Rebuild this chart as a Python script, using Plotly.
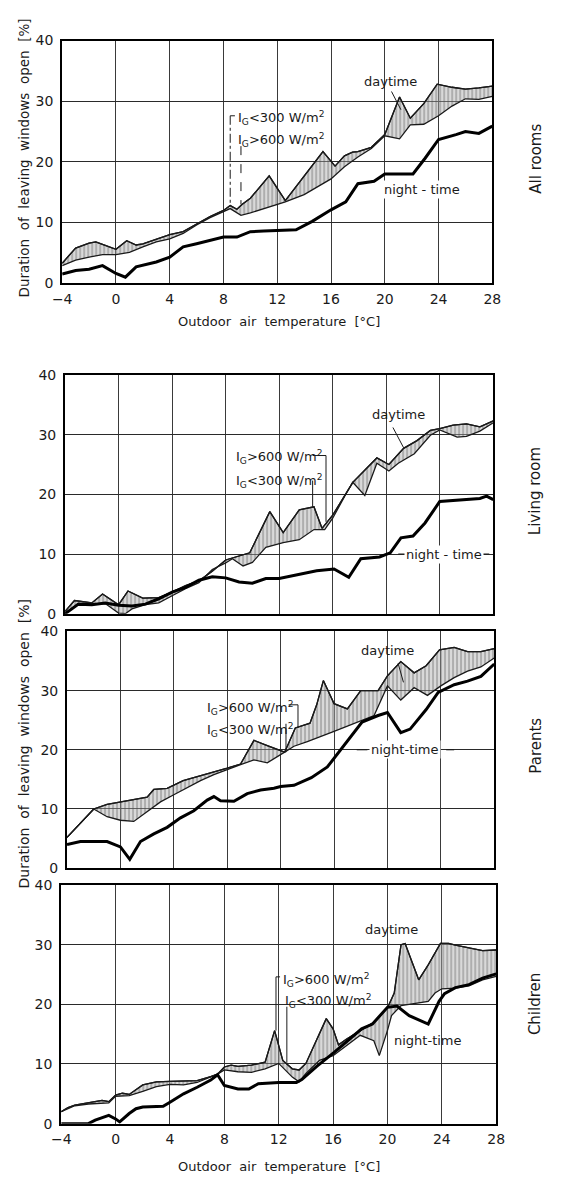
import plotly.graph_objects as go

W, H = 568, 1181

# ---------------- data: duration of leaving windows open [%] vs outdoor temperature [°C]
# All rooms
p1_hi_t = [-4, -3, -2, -1.5, -1, 0, 0.8, 1.5, 2, 3, 4, 5, 6, 7, 8, 8.5, 9, 9.4, 10, 11.4, 12.6,
           15.4, 16.3, 17, 17.6, 18, 19, 20, 21.1, 21.9, 22.9, 23.9, 25, 26, 27, 28]
p1_hi = [3.3, 5.8, 6.6, 6.8, 6.4, 5.6, 7.0, 6.3, 6.5, 7.3, 8.0, 8.5, 9.8, 11.0, 12.0, 12.8, 12.2, 13.0,
         14.0, 17.7, 13.6, 21.7, 19.3, 21.0, 21.6, 21.7, 22.4, 24.5, 30.7, 27.2, 29.6, 32.8, 32.3, 32.0,
         32.2, 32.5]
p1_lo_t = [-4, -3, -2, -1, 0, 1, 2, 3, 4, 5, 6, 7, 8, 8.5, 9.3, 10, 12.6, 14, 16, 17, 18, 19, 20,
           21.1, 21.9, 22.9, 24, 25, 26, 27, 28]
p1_lo = [2.9, 3.8, 4.3, 4.7, 4.7, 5.1, 6.0, 6.8, 7.3, 8.2, 9.6, 10.8, 11.8, 12.3, 11.2, 11.6, 13.4,
         14.6, 17.2, 19.2, 20.8, 22.2, 24.3, 23.8, 26.1, 26.2, 27.6, 29.2, 30.4, 30.3, 30.8]
p1_n_t = [-4, -3, -2, -1, 0, 0.7, 1.5, 2, 3, 4, 5, 6, 7, 8, 9, 10, 11, 12, 13.4, 14.6, 16, 17.1,
          18, 19.2, 20, 21.2, 22.1, 23, 24, 25.3, 26, 27, 28]
p1_n = [1.5, 2.1, 2.3, 2.9, 1.6, 1.0, 2.7, 3.0, 3.5, 4.3, 6.0, 6.5, 7.1, 7.6, 7.6, 8.5, 8.6, 8.7, 8.8,
        10.2, 12.1, 13.4, 16.4, 16.8, 18.0, 18.0, 18.0, 20.6, 23.7, 24.5, 25.0, 24.7, 25.9]

# Living room
p2_hi_t = [-4, -3.3, -2, -1.2, 0, 0.7, 1.8, 3, 4, 5, 6, 7, 8, 9, 9.8, 11.3, 12.3, 13.5, 14.6, 15.2,
           16, 17.5, 19.3, 20.2, 21.3, 22.3, 23.3, 24, 25, 26, 27, 28]
p2_hi = [0.4, 2.2, 1.8, 3.3, 1.5, 3.8, 2.6, 2.7, 3.6, 4.7, 5.5, 7.1, 9.0, 9.6, 10.2, 17.1, 13.6,
         17.4, 17.9, 14.3, 16.5, 22.0, 26.1, 25.0, 27.7, 29.0, 30.7, 31.0, 31.6, 31.8, 31.3, 32.3]
p2_lo_t = [-4, -3, -1, 0, 0.5, 1, 2, 3, 4, 5, 6, 7, 8, 8.5, 9.3, 10, 11, 12.3, 13.5, 14.6, 15.4,
           16, 17, 17.5, 18.4, 19.3, 20.2, 20.9, 22.1, 23.3, 24, 25.3, 26, 27, 28]
p2_lo = [0.0, 1.6, 1.7, 0.1, 0.0, 0.8, 1.5, 1.8, 3.0, 4.2, 5.2, 7.4, 8.5, 9.2, 8.0, 8.6, 11.1,
         11.9, 12.4, 14.1, 14.1, 16.0, 20.1, 22.0, 19.8, 25.2, 23.9, 25.2, 26.8, 29.9, 30.8, 29.6,
         29.7, 30.6, 32.0]
p2_n_t = [-4, -3, -2, -1, 0, 1, 2, 3, 4, 5, 6, 7, 8, 9, 10, 11, 12, 13.5, 14.8, 16.1, 17.2, 18.1,
          19.5, 20.3, 21.1, 22, 22.9, 24, 25.3, 26, 27, 27.5, 28]
p2_n = [0.0, 1.6, 1.5, 1.8, 1.4, 1.3, 1.6, 2.5, 3.6, 4.4, 5.6, 6.2, 6.0, 5.3, 5.1, 5.9, 5.9, 6.6,
        7.2, 7.5, 6.1, 9.2, 9.5, 10.2, 12.7, 13.0, 15.2, 18.8, 19.0, 19.1, 19.3, 19.7, 19.1]

# Parents
p3_hi_t = [-4, -2, -1, 0, 1, 2, 2.5, 3.5, 4.7, 6, 7, 8, 9, 10, 11, 12.3, 13.1, 14.2, 14.7, 15.2,
           16, 17, 18, 19.3, 20, 21, 22, 22.9, 23.9, 25, 26, 27, 28]
p3_hi = [5.2, 10.0, 10.8, 11.2, 11.5, 12.0, 13.3, 13.5, 14.8, 15.6, 16.2, 16.9, 17.6, 21.6, 20.7,
         19.6, 23.7, 24.5, 27.6, 31.7, 27.8, 26.9, 30.0, 30.0, 32.5, 34.9, 33.0, 34.2, 36.9, 37.3,
         36.6, 36.6, 37.1]
p3_lo_t = [-4, -2, -1, 0, 1, 2, 3, 4, 5, 6, 7, 8, 9, 10, 11, 12.3, 13, 14, 15, 16, 17, 18, 19,
           20, 21, 22, 23, 24, 25, 26, 27, 28]
p3_lo = [5.2, 10.0, 8.7, 8.1, 7.9, 9.5, 11.2, 12.4, 13.6, 14.8, 15.8, 16.7, 17.5, 18.3, 17.8, 19.6,
         20.6, 21.4, 22.2, 23.1, 24.0, 24.9, 25.8, 30.8, 28.4, 30.5, 29.2, 30.8, 32.2, 33.3, 34.0,
         35.5]
p3_n_t = [-4, -3, -1, 0, 0.7, 1.5, 2.5, 3.5, 4.5, 5.5, 6.5, 7, 7.5, 8.5, 9.5, 10.5, 11.5, 12, 13,
          14.3, 15.5, 16.8, 18.1, 19.3, 20, 21, 21.7, 22.9, 23.8, 25, 26, 27, 28]
p3_n = [4.0, 4.5, 4.5, 3.6, 1.5, 4.5, 5.8, 6.9, 8.5, 9.7, 11.5, 12.1, 11.4, 11.3, 12.6, 13.2, 13.5,
        13.8, 14.0, 15.3, 17.1, 21.0, 24.7, 25.8, 26.3, 22.9, 23.5, 26.8, 29.7, 31.0, 31.6, 32.4,
        34.5]

# Children
p4_hi_t = [-4, -3.5, -3, -2, -1, -0.5, 0, 0.5, 1, 2, 3, 4, 5, 6, 7, 7.5, 8, 8.5, 9, 10, 11, 11.7,
           12.3, 13, 13.5, 14, 15.5, 16, 16.4, 17, 18, 19, 20, 20.5, 21, 21.3, 22.3, 23, 23.9, 24.5,
           25, 26, 27, 28]
p4_hi = [2.0, 2.7, 3.1, 3.5, 3.9, 3.7, 4.8, 5.1, 4.9, 6.5, 7.0, 7.1, 7.1, 7.2, 7.9, 8.3, 9.5, 9.8,
         9.6, 9.8, 10.3, 15.6, 10.6, 9.2, 9.0, 10.1, 17.6, 15.9, 13.2, 14.2, 15.6, 17.0, 19.4, 21.9,
         30.0, 30.2, 24.1, 26.6, 30.2, 30.2, 29.9, 29.4, 29.0, 29.1]
p4_lo_t = [-4, -3, -2, -1, -0.5, 0, 1, 2, 3, 4, 5, 6, 7, 7.5, 8, 9, 10, 11, 12, 12.5, 13, 13.5, 14,
           15, 16, 17, 18, 19, 19.4, 20, 20.3, 21, 22, 23, 23.5, 24, 25, 26, 27, 28]
p4_lo = [2.0, 3.0, 3.3, 3.4, 3.5, 4.6, 4.7, 5.4, 6.2, 6.6, 6.5, 6.9, 7.8, 8.3, 9.0, 8.7, 8.6, 9.2,
         10.1, 9.0, 7.8, 7.0, 8.4, 10.6, 11.4, 13.1, 14.8, 13.9, 11.4, 15.6, 18.1, 19.8, 20.2, 20.5,
         21.9, 22.6, 22.7, 23.1, 24.1, 24.7]
p4_n_t = [-4, -2, -1.5, -0.5, 0, 0.3, 1, 1.5, 2, 3.5, 4, 5, 6, 7, 7.5, 8, 9, 9.8, 10.5, 12, 13.3,
          13.7, 14.8, 16.1, 18.1, 18.9, 20, 20.7, 21.6, 23, 23.8, 24.2, 25, 26, 27, 28]
p4_n = [0.0, 0.0, 0.6, 1.4, 0.8, 0.3, 1.7, 2.5, 2.8, 2.9, 3.6, 5.0, 6.1, 7.3, 8.2, 6.4, 5.8, 5.8,
        6.7, 6.9, 6.9, 7.4, 9.6, 12.0, 15.9, 16.7, 19.5, 19.7, 18.1, 16.7, 20.5, 21.8, 22.8, 23.3,
        24.4, 25.1]

panels = [
    dict(name="All rooms", hi=(p1_hi_t, p1_hi), lo=(p1_lo_t, p1_lo), night=(p1_n_t, p1_n),
         box=(54, 499, 33, 279), side_y=153, xticks=True),
    dict(name="Living room", hi=(p2_hi_t, p2_hi), lo=(p2_lo_t, p2_lo), night=(p2_n_t, p2_n),
         box=(57, 500, 372, 614), side_y=490, xticks=False),
    dict(name="Parents", hi=(p3_hi_t, p3_hi), lo=(p3_lo_t, p3_lo), night=(p3_n_t, p3_n),
         box=(59, 501, 632, 872), side_y=748, xticks=False),
    dict(name="Children", hi=(p4_hi_t, p4_hi), lo=(p4_lo_t, p4_lo), night=(p4_n_t, p4_n),
         box=(53, 503, 889, 1131), side_y=1010, xticks=True),
]

INK = "#1a1a1a"
FONT = "DejaVu Sans"

fig = go.Figure()
layout = dict(width=W, height=H, margin=dict(l=0, r=0, t=0, b=0), paper_bgcolor="white",
              plot_bgcolor="white", showlegend=False, font=dict(family=FONT, color=INK))
annotations = []
shapes = []

for i, p in enumerate(panels, start=1):
    sfx = "" if i == 1 else str(i)
    xa, ya = "x" + sfx, "y" + sfx
    x0, x1, y0, y1 = p["box"]
    layout["xaxis" + sfx] = dict(
        domain=[x0 / W, x1 / W], range=[-4, 28], anchor=ya, tickmode="linear", tick0=-4, dtick=4,
        showgrid=True, gridcolor="#3a3a3a", gridwidth=1, zeroline=False,
        showline=True, linecolor="black", linewidth=2, mirror=True, ticks="",
        showticklabels=p["xticks"], tickfont=dict(size=14, family=FONT, color=INK),
        ticklabelstandoff=2)
    layout["yaxis" + sfx] = dict(
        domain=[1 - y1 / H, 1 - y0 / H], range=[0, 40], anchor=xa, tickmode="linear", tick0=0,
        dtick=10, showgrid=True, gridcolor="#2a2a2a", gridwidth=1.4, zeroline=False,
        showline=True, linecolor="black", linewidth=2, mirror=True, ticks="",
        tickfont=dict(size=14, family=FONT, color=INK), ticklabelstandoff=4)

    ht, hv = p["hi"]
    lt, lv = p["lo"]
    nt, nv = p["night"]
    # daytime, high irradiation
    fig.add_trace(go.Scatter(x=ht, y=hv, xaxis=xa, yaxis=ya, mode="lines",
                             line=dict(color=INK, width=1.3), name="I_G>600 W/m²"))
    # daytime, low irradiation, band between the two daytime curves hatched
    fig.add_trace(go.Scatter(x=lt, y=lv, xaxis=xa, yaxis=ya, mode="lines", fill="tonexty",
                             fillcolor="rgba(170,170,170,0.45)",
                             fillpattern=dict(shape="|", fgcolor="#4a4a4a", size=4, solidity=0.3),
                             line=dict(color=INK, width=1.3), name="I_G<300 W/m²"))
    fig.add_trace(go.Scatter(x=ht, y=hv, xaxis=xa, yaxis=ya, mode="lines",
                             line=dict(color=INK, width=1.3), hoverinfo="skip"))
    # night-time
    fig.add_trace(go.Scatter(x=nt, y=nv, xaxis=xa, yaxis=ya, mode="lines",
                             line=dict(color="black", width=3), name="night-time"))

    # room label on the right
    annotations.append(dict(text=p["name"], xref="paper", yref="paper", x=544 / W,
                            y=1 - p["side_y"] / H, showarrow=False, textangle=-90,
                            font=dict(size=15, family=FONT, color=INK),
                            xanchor="center", yanchor="middle"))


def label(panel, text, x, y, anchor="left", size=13, bg=None):
    sfx = "" if panel == 1 else str(panel)
    d = dict(text=text, xref="x" + sfx, yref="y" + sfx, x=x, y=y, showarrow=False,
             xanchor=anchor, yanchor="middle", font=dict(size=size, family=FONT, color=INK))
    if bg:
        d["bgcolor"] = bg
    annotations.append(d)


def leader(panel, pts, dash="solid", width=1):
    sfx = "" if panel == 1 else str(panel)
    for (xa_, ya_), (xb, yb) in zip(pts[:-1], pts[1:]):
        shapes.append(dict(type="line", xref="x" + sfx, yref="y" + sfx, x0=xa_, y0=ya_,
                           x1=xb, y1=yb, line=dict(color=INK, width=width, dash=dash)))


HI = "I<sub>G</sub>&gt;600 W/m<sup>2</sup>"
LO = "I<sub>G</sub>&lt;300 W/m<sup>2</sup>"

# All rooms
label(1, "daytime", 20.4, 33.2, "center")
leader(1, [(20.5, 31.6), (21.2, 28.6)])
label(1, LO, 8.9, 27.3)
label(1, HI, 8.9, 23.6)
leader(1, [(8.85, 27.6), (8.5, 27.6), (8.5, 12.8)], dash="dashdot")
leader(1, [(9.3, 22.6), (9.3, 13.0)], dash="dash")
label(1, "night - time", 22.8, 15.4, "center", bg="white")

# Living room
label(2, "daytime", 20.9, 33.3, "center")
leader(2, [(20.5, 31.2), (21.3, 27.8)])
label(2, HI, 8.6, 26.3)
leader(2, [(14.5, 26.5), (15.5, 26.5), (15.5, 15.4)])
label(2, LO, 8.6, 22.2)
leader(2, [(14.5, 22.3), (14.5, 17.9)])
label(2, "night - time", 24.3, 10.0, "center", bg="white")
leader(2, [(20.9, 10.0), (21.5, 10.0)])
leader(2, [(27.1, 10.0), (27.7, 10.0)])

# Parents
label(3, "daytime", 20.0, 36.7, "center")
leader(3, [(20.8, 34.6), (21.2, 31.4)])
label(3, HI, 6.3, 27.0)
leader(3, [(12.6, 27.6), (13.3, 27.6), (13.3, 23.7)])
label(3, LO, 6.3, 23.3)
leader(3, [(12.4, 24.4), (12.4, 19.6)])
label(3, "night-time", 21.3, 20.0, "center", bg="white")
leader(3, [(17.7, 20.0), (18.5, 20.0)])
leader(3, [(24.4, 20.0), (25.0, 20.0)])

# Children
label(4, "daytime", 20.3, 32.6, "center")
label(4, HI, 12.2, 24.0)
leader(4, [(12.1, 24.6), (11.8, 24.6), (11.8, 15.6)])
label(4, LO, 12.3, 20.6)
leader(4, [(12.6, 19.6), (12.6, 10.2)])
label(4, "night-time", 23.0, 14.0, "center")

# axis titles
axis_font = dict(size=13, family=FONT, color=INK)
for ypx in (318, 1174):
    annotations.append(dict(text="Outdoor  air  temperature  [°C]", xref="paper", yref="paper",
                            x=278 / W, y=1 - ypx / H, showarrow=False, font=axis_font,
                            xanchor="center", yanchor="middle"))
for ypx, size in ((152, 13.5), (746, 14)):
    annotations.append(dict(text="Duration  of  leaving  windows  open  [%]", xref="paper",
                            yref="paper", x=14 / W, y=1 - ypx / H, showarrow=False,
                            textangle=-90, font=dict(size=size, family=FONT, color=INK),
                            xanchor="center", yanchor="middle"))

layout["annotations"] = annotations
layout["shapes"] = shapes
fig.update_layout(**layout)
fig.write_html("out.html")
